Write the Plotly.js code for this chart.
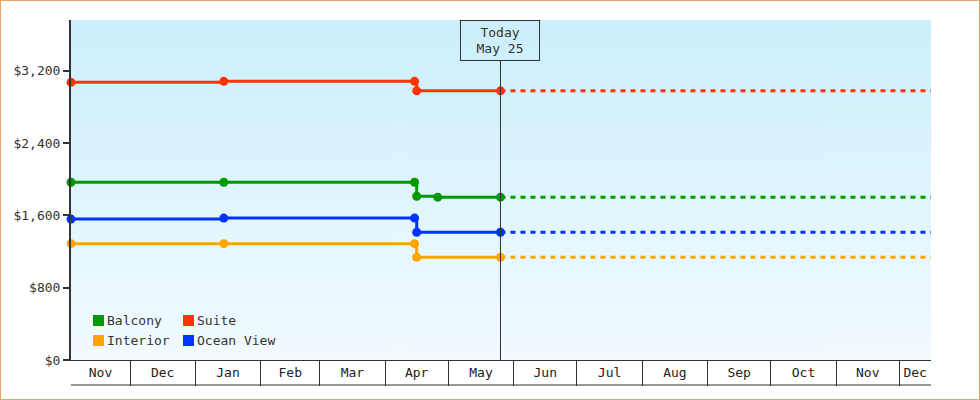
<!DOCTYPE html>
<html>
<head>
<meta charset="utf-8">
<script src="https://cdn.plot.ly/plotly-3.0.1.min.js"></script>
<style>
  html, body { margin: 0; padding: 0; background: #fff; }
  #frame { position: absolute; left: 0; top: 0; width: 980px; height: 400px; box-sizing: border-box; border: 1px solid #E6A864; background: #fff; }
  #chart { width: 978px; height: 398px; }
</style>
</head>
<body>
<div id="frame"><div id="chart"></div></div>
<script>
// ---------- data ----------
const rangeStart = '2022-11-03';
const rangeEnd = '2023-12-16';
const today = '2023-05-25 18:00';
const todayLabel = 'Today<br>May 25';

const monthNames = ['Nov', 'Dec', 'Jan', 'Feb', 'Mar', 'Apr', 'May', 'Jun', 'Jul', 'Aug', 'Sep', 'Oct', 'Nov', 'Dec'];
const monthStarts = ['2022-11-01', '2022-12-01', '2023-01-01', '2023-02-01', '2023-03-01', '2023-04-01', '2023-05-01',
  '2023-06-01', '2023-07-01', '2023-08-01', '2023-09-01', '2023-10-01', '2023-11-01', '2023-12-01', '2024-01-01'];

const seriesNames = ['Balcony', 'Suite', 'Interior', 'Ocean View'];
const seriesColors = ['#009900', '#FF3300', '#FFA500', '#0033FF'];

const balconyDates = ['2022-11-03', '2023-01-14 12:00', '2023-04-15', '2023-04-16', '2023-04-26', '2023-05-25 18:00'];
const balconyPrices = [1967, 1967, 1967, 1812, 1802, 1802];

const suiteDates = ['2022-11-03', '2023-01-14 12:00', '2023-04-15', '2023-04-16', '2023-05-25 18:00'];
const suitePrices = [3072, 3083, 3083, 2978, 2978];

const interiorDates = ['2022-11-03', '2023-01-14 12:00', '2023-04-15', '2023-04-16', '2023-05-25 18:00'];
const interiorPrices = [1287, 1287, 1287, 1137, 1137];

const oceanDates = ['2022-11-03', '2023-01-14 12:00', '2023-04-15', '2023-04-16', '2023-05-25 18:00'];
const oceanPrices = [1559, 1570, 1570, 1414, 1414];

const yTicks = [0, 800, 1600, 2400, 3200];
const yMax = 3762;

// ---------- build ----------
const FONT = '"DejaVu Sans Mono", "Liberation Mono", monospace';
const allDates = [balconyDates, suiteDates, interiorDates, oceanDates];
const allPrices = [balconyPrices, suitePrices, interiorPrices, oceanPrices];

const traces = [];
seriesNames.forEach((name, i) => {
  traces.push({
    type: 'scatter', mode: 'lines+markers', name: name,
    x: allDates[i], y: allPrices[i],
    line: { color: seriesColors[i], width: 3, shape: 'hv' },
    marker: { color: seriesColors[i], size: 9 },
    cliponaxis: false, showlegend: false, hoverinfo: 'skip'
  });
  const last = allPrices[i][allPrices[i].length - 1];
  traces.push({
    type: 'scatter', mode: 'lines', name: name + ' (forecast)',
    x: [today, rangeEnd], y: [last, last],
    line: { color: seriesColors[i], width: 3, dash: '5px,5px' },
    showlegend: false, hoverinfo: 'skip'
  });
});

// month label positions: middle of the visible part of each month
const t0 = new Date(rangeStart).getTime(), t1 = new Date(rangeEnd).getTime();
const labelVals = [], labelText = [];
for (let i = 0; i < monthNames.length; i++) {
  const a = Math.max(new Date(monthStarts[i]).getTime(), t0);
  const b = Math.min(new Date(monthStarts[i + 1]).getTime(), t1);
  if (b > a) {
    labelVals.push(new Date((a + b) / 2).toISOString().replace('T', ' ').slice(0, 19));
    labelText.push(monthNames[i]);
  }
}
const boundaries = monthStarts.filter(d => { const t = new Date(d).getTime(); return t > t0 && t < t1; });

// background gradient image
const cv = document.createElement('canvas');
cv.width = 4; cv.height = 256;
const cx = cv.getContext('2d');
const g = cx.createLinearGradient(0, 0, 0, 256);
g.addColorStop(0, '#CBEFFC');
g.addColorStop(1, '#F3FBFF');
cx.fillStyle = g; cx.fillRect(0, 0, 4, 256);
const bgSrc = cv.toDataURL('image/png');

const annotations = [{
  x: today, xref: 'x', y: 1, yref: 'paper', yanchor: 'top', xanchor: 'center',
  text: todayLabel, showarrow: false, font: { family: FONT, size: 13, color: '#333' },
  bordercolor: '#333', borderwidth: 1, borderpad: 0, width: 78, height: 39,
  bgcolor: 'rgba(0,0,0,0)'
}];
const shapes = [
  { type: 'line', xref: 'x', x0: today, x1: today, yref: 'paper', ysizemode: 'pixel', yanchor: 0, y0: 0, y1: 299,
    line: { color: '#333', width: 1 }, layer: 'above' },
  { type: 'line', xref: 'paper', x0: 0, x1: 1, yref: 'paper', ysizemode: 'pixel', yanchor: 0, y0: -25, y1: -25,
    line: { color: '#333', width: 1 } }
];
// legend entries (2 columns)
const legendOrder = [0, 1, 2, 3];
legendOrder.forEach((k, j) => {
  const col = j % 2, row = Math.floor(j / 2);
  const sx = col === 0 ? 22 : 112;
  const sy = row === 0 ? 34 : 14;
  shapes.push({ type: 'rect', xref: 'paper', xsizemode: 'pixel', xanchor: 0, x0: sx, x1: sx + 11,
    yref: 'paper', ysizemode: 'pixel', yanchor: 0, y0: sy, y1: sy + 11,
    fillcolor: seriesColors[k], line: { width: 0 }, layer: 'above' });
  annotations.push({ xref: 'paper', x: 0, xanchor: 'left', xshift: sx + 12,
    yref: 'paper', y: 0, yanchor: 'middle', yshift: sy + 5.5,
    text: seriesNames[k], showarrow: false, font: { family: FONT, size: 13, color: '#333' } });
});

const layout = {
  width: 978, height: 398,
  margin: { l: 70, r: 48, t: 19, b: 39, pad: 0 },
  paper_bgcolor: '#fff', plot_bgcolor: 'rgba(0,0,0,0)',
  showlegend: false,
  font: { family: FONT, size: 13, color: '#333' },
  images: [{ source: bgSrc, xref: 'paper', yref: 'paper', x: 0, y: 1, sizex: 1, sizey: 1,
    xanchor: 'left', yanchor: 'top', sizing: 'stretch', layer: 'below' }],
  xaxis: {
    type: 'date', range: [rangeStart, rangeEnd], showgrid: false, zeroline: false,
    showline: true, linecolor: '#333', linewidth: 1,
    tickmode: 'array', tickvals: labelVals, ticktext: labelText,
    ticks: 'outside', ticklen: 0, tickcolor: 'rgba(0,0,0,0)', ticklabelstandoff: 0,
    tickfont: { family: FONT, size: 13, color: '#222' },
    minor: { tickmode: 'array', tickvals: boundaries, ticks: 'outside', ticklen: 25, tickcolor: '#333', tickwidth: 1, showgrid: false },
    fixedrange: true
  },
  yaxis: {
    range: [0, yMax], tickmode: 'array', tickvals: yTicks, tickformat: '$,',
    showgrid: false, zeroline: false, showline: true, linecolor: '#333', linewidth: 2,
    ticks: 'outside', ticklen: 6, tickwidth: 2, tickcolor: '#333',
    tickfont: { family: FONT, size: 13, color: '#333' }, fixedrange: true
  },
  annotations: annotations,
  shapes: shapes
};

Plotly.newPlot('chart', traces, layout, { displayModeBar: false, staticPlot: true });
</script>
</body>
</html>
